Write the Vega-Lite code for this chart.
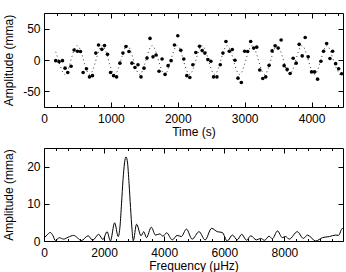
{
  "$schema": "https://vega.github.io/schema/vega-lite/v6.json",
  "padding": {"left": 1, "top": 12, "right": 5, "bottom": 0},
  "spacing": 9,
  "config": {
    "font": "Liberation Sans",
    "view": {"stroke": "black", "strokeWidth": 1},
    "axis": {
      "domain": false,
      "grid": false,
      "labelFont": "Liberation Sans",
      "titleFont": "Liberation Sans",
      "labelFontSize": 12,
      "titleFontSize": 12,
      "titleFontWeight": "normal",
      "labelColor": "black",
      "titleColor": "black",
      "tickColor": "black",
      "tickWidth": 1,
      "format": "d"
    }
  },
  "datasets": {
    "obs": [
      {"t":175,"a":-1},{"t":225,"a":-2.6},{"t":276,"a":-1},{"t":315,"a":-13},{"t":355,"a":-20},
      {"t":405,"a":-10},{"t":450,"a":16},{"t":500,"a":14},{"t":545,"a":13.5},{"t":585,"a":-20},
      {"t":635,"a":-14},{"t":680,"a":-27},{"t":725,"a":-25},{"t":775,"a":11},{"t":815,"a":24},
      {"t":865,"a":17},{"t":905,"a":23},{"t":950,"a":9},{"t":995,"a":-20},{"t":1040,"a":-25},
      {"t":1085,"a":-27},{"t":1135,"a":-5},{"t":1180,"a":11},{"t":1225,"a":21.5},{"t":1270,"a":13.5},
      {"t":1315,"a":-5},{"t":1360,"a":-12},{"t":1405,"a":-7.5},{"t":1450,"a":-27},{"t":1495,"a":-13},
      {"t":1540,"a":3},{"t":1585,"a":34.5},{"t":1630,"a":5},{"t":1675,"a":8},{"t":1720,"a":-18},
      {"t":1765,"a":1.6},{"t":1810,"a":-23},{"t":1855,"a":-9},{"t":1900,"a":-1},{"t":1950,"a":24},
      {"t":2000,"a":38.7},{"t":2045,"a":15.6},{"t":2090,"a":1.6},{"t":2135,"a":-25},{"t":2180,"a":-28},
      {"t":2225,"a":-7.5},{"t":2270,"a":12},{"t":2325,"a":22},{"t":2365,"a":15},{"t":2405,"a":11},
      {"t":2450,"a":0.6},{"t":2495,"a":-2},{"t":2535,"a":-27},{"t":2585,"a":-27},{"t":2635,"a":-7.5},
      {"t":2675,"a":11},{"t":2720,"a":29.6},{"t":2770,"a":14},{"t":2815,"a":16.7},{"t":2855,"a":-0.5},
      {"t":2900,"a":-29},{"t":2950,"a":-36},{"t":3000,"a":14},{"t":3045,"a":13.5},{"t":3090,"a":29.6},
      {"t":3135,"a":19},{"t":3180,"a":20.5},{"t":3225,"a":-16},{"t":3270,"a":-29.5},{"t":3315,"a":-27},
      {"t":3365,"a":-8.5},{"t":3410,"a":14.5},{"t":3455,"a":22.6},{"t":3500,"a":19},{"t":3545,"a":32},
      {"t":3590,"a":-9},{"t":3635,"a":-15},{"t":3680,"a":-21.5},{"t":3725,"a":2.7},{"t":3770,"a":-5},
      {"t":3815,"a":25},{"t":3860,"a":6.5},{"t":3905,"a":36},{"t":3950,"a":5},{"t":4000,"a":-19},
      {"t":4045,"a":-19},{"t":4090,"a":-30.6},{"t":4140,"a":-2},{"t":4180,"a":14},{"t":4225,"a":26.4},
      {"t":4275,"a":2.3},{"t":4315,"a":14},{"t":4360,"a":-5.8},{"t":4405,"a":-14},{"t":4450,"a":-22}
    ],
    "fit": [
      {"t":175,"a":13},{"t":216,"a":0},{"t":310,"a":-23},{"t":403,"a":0},{"t":497,"a":23},
      {"t":590,"a":0},{"t":683,"a":-23},{"t":777,"a":0},{"t":870,"a":23},{"t":963,"a":0},
      {"t":1057,"a":-23},{"t":1150,"a":0},{"t":1244,"a":23},{"t":1337,"a":0},{"t":1430,"a":-23},
      {"t":1524,"a":0},{"t":1617,"a":23},{"t":1711,"a":0},{"t":1804,"a":-23},{"t":1897,"a":0},
      {"t":1991,"a":23},{"t":2084,"a":0},{"t":2177,"a":-23},{"t":2271,"a":0},{"t":2364,"a":23},
      {"t":2458,"a":0},{"t":2551,"a":-23},{"t":2644,"a":0},{"t":2738,"a":23},{"t":2831,"a":0},
      {"t":2924,"a":-23},{"t":3018,"a":0},{"t":3111,"a":23},{"t":3205,"a":0},{"t":3298,"a":-23},
      {"t":3391,"a":0},{"t":3485,"a":23},{"t":3578,"a":0},{"t":3671,"a":-23},{"t":3765,"a":0},
      {"t":3858,"a":23},{"t":3951,"a":0},{"t":4045,"a":-23},{"t":4138,"a":0},{"t":4232,"a":23},
      {"t":4325,"a":0},{"t":4418,"a":-23},{"t":4450,"a":-22}
    ],
    "spectrum": [
      {"f":0,"a":0.8},{"f":100,"a":1.6},{"f":210,"a":2.3},{"f":300,"a":1.4},{"f":380,"a":0.1},
      {"f":510,"a":0.9},{"f":580,"a":0.7},{"f":655,"a":0.5},{"f":800,"a":1.0},{"f":990,"a":1.5},
      {"f":1120,"a":0.8},{"f":1240,"a":0.1},{"f":1470,"a":1.4},{"f":1620,"a":0.2},{"f":1820,"a":1.8},
      {"f":1960,"a":0.4},{"f":2100,"a":2.5},{"f":2210,"a":0.0},{"f":2350,"a":4.9},{"f":2470,"a":1.2},
      {"f":2530,"a":4},{"f":2580,"a":10},{"f":2630,"a":16.5},{"f":2680,"a":21},{"f":2730,"a":22.6},
      {"f":2780,"a":21},{"f":2830,"a":15.5},{"f":2880,"a":9},{"f":2930,"a":3},{"f":2970,"a":0.1},
      {"f":3080,"a":4.5},{"f":3230,"a":1.4},{"f":3320,"a":2.5},{"f":3410,"a":0.9},{"f":3570,"a":3.7},
      {"f":3710,"a":1.6},{"f":3850,"a":1.9},{"f":3960,"a":1.3},{"f":4080,"a":2.2},{"f":4270,"a":0.3},
      {"f":4430,"a":1.5},{"f":4570,"a":1.2},{"f":4740,"a":3.2},{"f":4930,"a":0.5},{"f":5160,"a":2.5},
      {"f":5360,"a":0.3},{"f":5580,"a":3.4},{"f":5770,"a":2.5},{"f":5930,"a":2.3},{"f":6100,"a":0.0},
      {"f":6270,"a":1.6},{"f":6430,"a":0.3},{"f":6580,"a":1.8},{"f":6740,"a":0.2},{"f":6880,"a":1.4},
      {"f":7070,"a":0.3},{"f":7210,"a":0.7},{"f":7340,"a":0.2},{"f":7490,"a":1.3},{"f":7600,"a":0.6},
      {"f":7770,"a":2.7},{"f":7930,"a":0.9},{"f":8040,"a":1.2},{"f":8160,"a":0.5},{"f":8430,"a":2.5},
      {"f":8630,"a":0.7},{"f":8770,"a":1.6},{"f":9040,"a":0.0},{"f":9270,"a":0.9},{"f":9500,"a":1.2},
      {"f":9710,"a":1.6},{"f":9800,"a":1.5},{"f":9930,"a":3.4},{"f":9950,"a":3.2}
    ]
  },
  "vconcat": [
    {
      "width": 299,
      "height": 94,
      "resolve": {"axis": {"x": "independent", "y": "independent"}},
      "layer": [
        {
          "data": {"name": "fit"},
          "mark": {"type": "line", "interpolate": "natural", "color": "#333333", "strokeWidth": 1, "strokeDash": [1, 3], "clip": true},
          "encoding": {
            "x": {"field": "t", "type": "quantitative", "scale": {"domain": [0, 4470], "nice": false, "zero": false},
              "axis": {"orient": "bottom", "title": "Time (s)", "ticks": false, "values": [0, 1000, 2000, 3000, 4000], "labelPadding": 6, "titlePadding": 2, "labelFlush": false}},
            "y": {"field": "a", "type": "quantitative", "scale": {"domain": [-75, 75], "nice": false},
              "axis": {"orient": "left", "title": "Amplitude (mma)", "ticks": false, "values": [-50, 0, 50], "labelPadding": 4, "titleX": -41, "titleBaseline": "top", "labelExpr": "'' + datum.value"}}
          }
        },
        {
          "data": {"name": "obs"},
          "mark": {"type": "point", "filled": true, "color": "black", "opacity": 1, "size": 13},
          "encoding": {
            "x": {"field": "t", "type": "quantitative", "axis": {"orient": "bottom", "values": [0, 1000, 2000, 3000, 4000], "labels": false, "title": null, "tickSize": -5}},
            "y": {"field": "a", "type": "quantitative", "axis": {"orient": "left", "values": [-50, 0, 50], "labels": false, "title": null, "tickSize": -5}}
          }
        },
        {
          "data": {"name": "obs"},
          "mark": {"type": "point", "opacity": 0},
          "encoding": {
            "x": {"field": "t", "type": "quantitative", "axis": {"orient": "top", "values": [0, 1000, 2000, 3000, 4000], "labels": false, "title": null, "tickSize": -5}},
            "y": {"field": "a", "type": "quantitative", "axis": {"orient": "right", "values": [-50, 0, 50], "labels": false, "title": null, "tickSize": -5}}
          }
        },
        {
          "data": {"name": "obs"},
          "mark": {"type": "point", "opacity": 0},
          "encoding": {
            "x": {"field": "t", "type": "quantitative", "axis": {"orient": "bottom", "values": [200, 400, 600, 800, 1200, 1400, 1600, 1800, 2200, 2400, 2600, 2800, 3200, 3400, 3600, 3800, 4200, 4400], "labels": false, "title": null, "tickSize": -2.5}},
            "y": {"field": "a", "type": "quantitative", "axis": null}
          }
        },
        {
          "data": {"name": "obs"},
          "mark": {"type": "point", "opacity": 0},
          "encoding": {
            "x": {"field": "t", "type": "quantitative", "axis": {"orient": "top", "values": [200, 400, 600, 800, 1200, 1400, 1600, 1800, 2200, 2400, 2600, 2800, 3200, 3400, 3600, 3800, 4200, 4400], "labels": false, "title": null, "tickSize": -2.5}},
            "y": {"field": "a", "type": "quantitative", "axis": null}
          }
        }
      ]
    },
    {
      "width": 299,
      "height": 93,
      "data": {"name": "spectrum"},
      "resolve": {"axis": {"x": "independent", "y": "independent"}},
      "layer": [
        {
          "mark": {"type": "line", "interpolate": "monotone", "color": "black", "strokeWidth": 1},
          "encoding": {
            "x": {"field": "f", "type": "quantitative", "scale": {"domain": [0, 9950], "nice": false, "zero": false},
              "axis": {"orient": "bottom", "title": "Frequency (μHz)", "ticks": false, "values": [0, 2000, 4000, 6000, 8000], "labelPadding": 6, "titlePadding": 2, "labelFlush": false}},
            "y": {"field": "a", "type": "quantitative", "scale": {"domain": [0, 25], "nice": false},
              "axis": {"orient": "left", "title": "Amplitude (mma)", "ticks": false, "values": [0, 10, 20], "labelPadding": 4, "titleX": -41, "titleBaseline": "top"}}
          }
        },
        {
          "mark": {"type": "point", "opacity": 0},
          "encoding": {
            "x": {"field": "f", "type": "quantitative", "axis": {"orient": "bottom", "values": [0, 2000, 4000, 6000, 8000], "labels": false, "title": null, "tickSize": -5}},
            "y": {"field": "a", "type": "quantitative", "axis": {"orient": "left", "values": [0, 10, 20], "labels": false, "title": null, "tickSize": -5}}
          }
        },
        {
          "mark": {"type": "point", "opacity": 0},
          "encoding": {
            "x": {"field": "f", "type": "quantitative", "axis": {"orient": "top", "values": [0, 2000, 4000, 6000, 8000], "labels": false, "title": null, "tickSize": -5}},
            "y": {"field": "a", "type": "quantitative", "axis": {"orient": "right", "values": [0, 10, 20], "labels": false, "title": null, "tickSize": -5}}
          }
        },
        {
          "mark": {"type": "point", "opacity": 0},
          "encoding": {
            "x": {"field": "f", "type": "quantitative", "axis": {"orient": "bottom", "values": [400, 800, 1200, 1600, 2400, 2800, 3200, 3600, 4400, 4800, 5200, 5600, 6400, 6800, 7200, 7600, 8400, 8800, 9200, 9600], "labels": false, "title": null, "tickSize": -2.5}},
            "y": {"field": "a", "type": "quantitative", "axis": null}
          }
        },
        {
          "mark": {"type": "point", "opacity": 0},
          "encoding": {
            "x": {"field": "f", "type": "quantitative", "axis": {"orient": "top", "values": [400, 800, 1200, 1600, 2400, 2800, 3200, 3600, 4400, 4800, 5200, 5600, 6400, 6800, 7200, 7600, 8400, 8800, 9200, 9600], "labels": false, "title": null, "tickSize": -2.5}},
            "y": {"field": "a", "type": "quantitative", "axis": null}
          }
        }
      ]
    }
  ]
}
